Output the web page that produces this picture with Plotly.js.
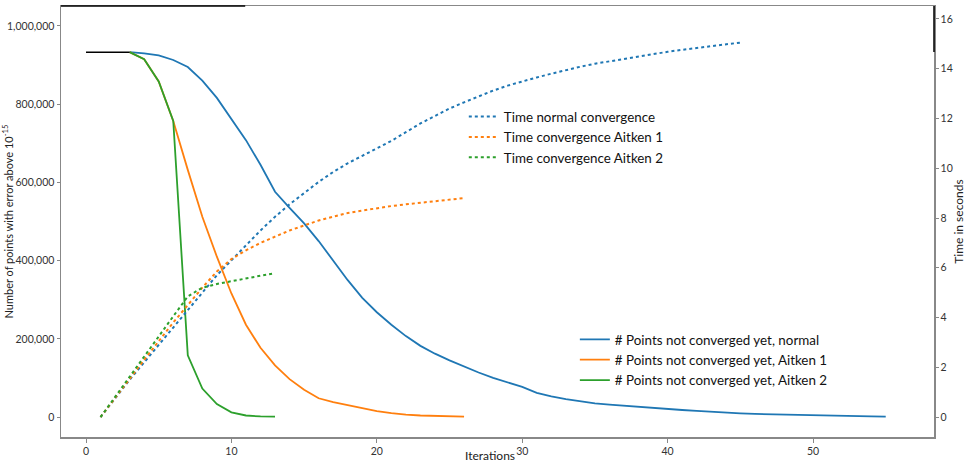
<!DOCTYPE html>
<html>
<head>
<meta charset="utf-8">
<script src="https://cdn.plot.ly/plotly-3.0.1.min.js"></script>
<style>html,body{margin:0;padding:0;background:#fff;}#chart{width:966px;height:463px;}</style>
</head>
<body>
<div id="chart"></div>
<script>
// Iterations (x values)
const iterInit = [0, 3];
const ptsInit = [933000, 933000];

const iterNormal = [3,4,5,6,7,8,9,10,11,12,13,14,15,16,17,18,19,20,21,22,23,24,25,26,27,28,29,30,31,32,33,34,35,36,37,38,39,40,41,42,43,44,45,46,47,48,49,50,51,52,53,54,55];
const ptsNormal = [933000,930000,925000,913000,895000,860000,816000,763000,708000,645000,576000,535000,495000,450000,400000,350000,305000,268000,236000,207000,182000,162000,145000,129000,114000,100000,89000,77000,62000,53000,46000,40000,35000,32000,29000,26000,23000,20000,18000,16000,13500,11500,9500,8000,7000,6000,5000,4500,4000,3000,2000,1500,1000];

const iterAitken1 = [3,4,5,6,7,8,9,10,11,12,13,14,15,16,17,18,19,20,21,22,23,24,25,26];
const ptsAitken1 = [933000,915000,858000,757000,632000,512000,410000,316000,236000,177000,132000,97000,70000,48000,38000,30000,22000,15000,10000,6000,4000,2500,1500,1000];

const iterAitken2 = [3,4,5,6,7,8,9,10,11,12,13];
const ptsAitken2 = [933000,915000,858000,757000,158000,73000,33000,12000,4000,1500,1000];

const timeIterNormal = [1,2,3,4,5,6,7,8,9,10,11,12,13,14,15,16,17,18,19,20,21,22,23,24,25,26,27,28,29,30,31,32,33,34,35,36,37,38,39,40,41,42,43,44,45];
const timeNormal = [0,0.75,1.5,2.2,2.9,3.6,4.3,5.0,5.7,6.3,6.9,7.5,8.05,8.55,9.0,9.45,9.85,10.2,10.5,10.8,11.1,11.45,11.8,12.1,12.4,12.65,12.9,13.12,13.32,13.5,13.65,13.8,13.95,14.08,14.2,14.3,14.4,14.5,14.6,14.68,14.76,14.84,14.91,14.98,15.05];

const timeIterAitken1 = [1,2,3,4,5,6,7,8,9,10,11,12,13,14,15,16,17,18,19,20,21,22,23,24,25,26];
const timeAitken1 = [0,0.78,1.55,2.3,3.05,3.8,4.5,5.2,5.85,6.35,6.7,7.0,7.25,7.5,7.7,7.9,8.05,8.2,8.3,8.4,8.48,8.55,8.62,8.68,8.74,8.8];

const timeIterAitken2 = [1,2,3,4,5,6,7,8,9,10,11,12,13];
const timeAitken2 = [0,0.82,1.64,2.45,3.25,4.05,4.85,5.2,5.35,5.47,5.58,5.68,5.78];

const xTicks = [0,10,20,30,40,50];
const yTicks = [0,200000,400000,600000,800000,1000000];
const y2Ticks = [0,2,4,6,8,10,12,14,16];

const cBlue = '#1f77b4', cOrange = '#ff7f0e', cGreen = '#2ca02c';
const fam = 'Lato, "Open Sans", sans-serif';
const legFont = {family: fam, size: 13.4, color: '#111'};

const traces = [
  {x: timeIterNormal, y: timeNormal, yaxis: 'y2', mode: 'lines', name: 'Time normal convergence',
   line: {color: cBlue, dash: 'dot', width: 2}, legend: 'legend'},
  {x: timeIterAitken1, y: timeAitken1, yaxis: 'y2', mode: 'lines', name: 'Time convergence Aitken 1',
   line: {color: cOrange, dash: 'dot', width: 2}, legend: 'legend'},
  {x: timeIterAitken2, y: timeAitken2, yaxis: 'y2', mode: 'lines', name: 'Time convergence Aitken 2',
   line: {color: cGreen, dash: 'dot', width: 2}, legend: 'legend'},
  {x: iterNormal, y: ptsNormal, mode: 'lines', name: '# Points not converged yet, normal',
   line: {color: cBlue, width: 1.8}, legend: 'legend2'},
  {x: iterAitken1, y: ptsAitken1, mode: 'lines', name: '# Points not converged yet, Aitken 1',
   line: {color: cOrange, width: 1.8}, legend: 'legend2'},
  {x: iterAitken2, y: ptsAitken2, mode: 'lines', name: '# Points not converged yet, Aitken 2',
   line: {color: cGreen, width: 1.8}, legend: 'legend2'},
  {x: iterInit, y: ptsInit, mode: 'lines', showlegend: false,
   line: {color: '#000', width: 1.5}}
];

const tickFont = {family: fam, size: 10.5, color: '#333'};
const axisLine = '#888';

const layout = {
  width: 966, height: 463,
  margin: {l: 61, r: 32, t: 6, b: 26, pad: 0},
  paper_bgcolor: '#fff', plot_bgcolor: '#fff',
  showlegend: true,
  xaxis: {
    range: [-1.72, 58.32], tickvals: xTicks, ticks: 'outside', ticklen: 4, tickcolor: axisLine,
    showgrid: false, zeroline: false, showline: true, linecolor: axisLine, linewidth: 1.5, mirror: true,
    tickfont: tickFont
  },
  yaxis: {
    range: [-51000, 1051000], tickvals: yTicks, tickformat: ',d', ticks: 'outside', ticklen: 3, tickcolor: axisLine,
    showgrid: false, zeroline: false, showline: true, linecolor: axisLine, linewidth: 1.5,
    tickfont: tickFont, automargin: false,
    title: {text: 'Number of points with error above 10<sup>-15</sup>', font: {family: fam, size: 11, color: '#222'}, standoff: 4}
  },
  yaxis2: {
    overlaying: 'y', side: 'right',
    range: [-0.80, 16.52], tickvals: y2Ticks, ticks: 'outside', ticklen: 3, tickcolor: axisLine,
    showgrid: false, zeroline: false, showline: true, linecolor: axisLine, linewidth: 1.5,
    tickfont: tickFont, automargin: false,
    title: {text: 'Time in seconds', font: {family: fam, size: 12, color: '#222'}, standoff: 4}
  },
  legend: {
    x: 0.4614, y: 0.779, xanchor: 'left', yanchor: 'top',
    bgcolor: 'rgba(255,255,255,0)', borderwidth: 0, font: legFont, tracegroupgap: 0
  },
  legend2: {
    x: 0.5886, y: 0.262, xanchor: 'left', yanchor: 'top',
    bgcolor: 'rgba(255,255,255,0)', borderwidth: 0, font: legFont, tracegroupgap: 0
  },
  annotations: [
    {text: 'Iterations', xref: 'paper', yref: 'paper', x: 0.4914, y: -0.044, xanchor: 'center', yanchor: 'middle',
     showarrow: false, font: {family: fam, size: 12, color: '#222'}}
  ],
  shapes: [
    {type: 'line', xref: 'paper', yref: 'paper', x0: 0, x1: 0.211, y0: 1, y1: 1, line: {color: '#000', width: 1.5}},
    {type: 'line', xref: 'paper', yref: 'paper', x0: 1, x1: 1, y0: 1, y1: 0.893, line: {color: '#000', width: 1.5}}
  ]
};

Plotly.newPlot('chart', traces, layout, {displayModeBar: false, staticPlot: true});
</script>
</body>
</html>
